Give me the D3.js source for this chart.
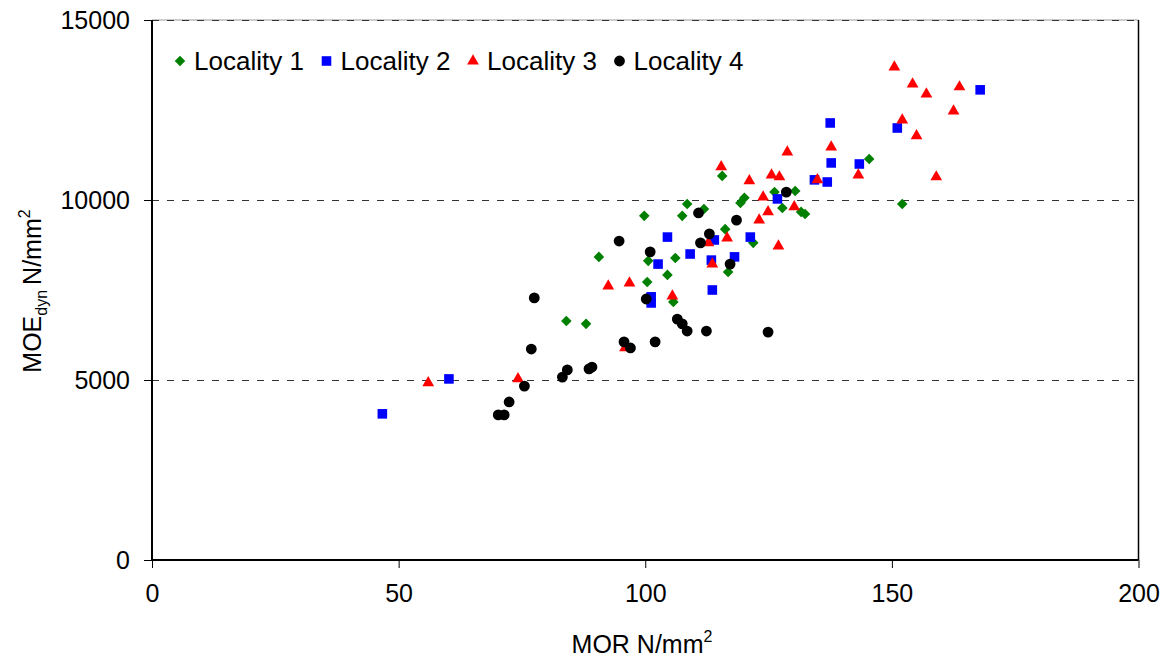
<!DOCTYPE html>
<html>
<head>
<meta charset="utf-8">
<script src="https://cdn.jsdelivr.net/npm/d3@7/dist/d3.min.js"></script>
<style>
  body { margin: 0; background: #fff; }
  text { font-family: "Liberation Sans", Arial, sans-serif; fill: #000; }
</style>
</head>
<body>
<svg id="chart" width="1168" height="662"></svg>
<script>
// values: [MOR, MOEdyn]
var locality1 = [
  [84.0, 6640], [88.0, 6560], [90.6, 8420], [99.8, 9560], [100.6, 8310],
  [100.4, 7720], [104.5, 7920], [106.1, 8390], [105.7, 7170], [107.5, 9560],
  [108.5, 9890], [111.9, 9750], [115.6, 10670], [116.2, 9190], [116.8, 8000],
  [119.3, 9920], [120.1, 10060], [121.9, 8810], [126.2, 10220], [127.8, 9780],
  [130.4, 10250], [131.6, 9670], [132.4, 9610], [145.4, 11140], [152.1, 9890]
];
var locality2 = [
  [46.7, 4060], [60.2, 5030], [101.2, 7310], [101.2, 7140], [102.6, 8220],
  [104.5, 8970], [109.1, 8500], [114.0, 8890], [113.4, 8330], [113.6, 7500],
  [118.1, 8420], [121.3, 8970], [126.8, 10030], [134.3, 10560], [136.9, 10500],
  [137.7, 11030], [137.5, 12140], [143.4, 11000], [151.1, 12000], [167.9, 13060]
];
var locality3 = [
  [56.0, 4920], [74.2, 5030], [92.5, 7610], [96.8, 7690], [95.9, 5890],
  [105.5, 7330], [112.8, 8810], [113.6, 8220], [116.6, 8940], [115.4, 10920],
  [121.1, 10530], [125.6, 10690], [127.2, 10640], [123.9, 10080], [124.9, 9670],
  [123.1, 9440], [130.2, 9810], [127.0, 8720], [128.8, 11330], [134.9, 10560],
  [137.7, 11470], [143.2, 10690], [150.5, 13690], [154.2, 13220], [157.0, 12940],
  [163.7, 13140], [162.5, 12470], [152.1, 12220], [155.0, 11780], [159.0, 10640]
];
var locality4 = [
  [70.2, 4030], [71.4, 4030], [72.4, 4390], [75.5, 4830], [76.9, 5860],
  [77.5, 7280], [83.2, 5080], [84.2, 5280], [88.6, 5310], [89.2, 5360],
  [94.7, 8860], [95.7, 6060], [97.0, 5890], [100.2, 7250], [101.0, 8560],
  [102.0, 6060], [106.5, 6690], [107.5, 6560], [108.5, 6360], [112.4, 6360],
  [110.8, 9640], [111.2, 8810], [113.0, 9060], [118.5, 9440], [117.2, 8220],
  [124.9, 6330], [128.6, 10220]
];
var seriesNames = ["Locality 1", "Locality 2", "Locality 3", "Locality 4"];
var xTicks = [0, 50, 100, 150, 200];
var yTicks = [0, 5000, 10000, 15000];

var seriesData = [locality1, locality2, locality3, locality4];
var colors = ["#008000", "#0000ff", "#ff0000", "#000000"];
var symbols = [
  d3.symbol().type(d3.symbolSquare).size(56),
  d3.symbol().type(d3.symbolSquare).size(92),
  d3.symbol().type(d3.symbolTriangle).size(60),
  d3.symbol().type(d3.symbolCircle).size(92)
];
var rotate = [45, 0, 0, 0];

var svg = d3.select("#chart");

var x = d3.scaleLinear().domain([0, 200]).range([152, 1138.5]);
var y = d3.scaleLinear().domain([0, 15000]).range([560, 20]);

// top border (light) and right border
svg.append("line")
  .attr("x1", x(0)).attr("x2", x(200))
  .attr("y1", y(15000)).attr("y2", y(15000))
  .attr("stroke", "#999").attr("stroke-width", 1);
svg.append("line")
  .attr("x1", x(200)).attr("x2", x(200))
  .attr("y1", y(15000)).attr("y2", y(0))
  .attr("stroke", "#000").attr("stroke-width", 1.5);

// dashed gridlines
svg.append("g")
  .selectAll("line")
  .data(yTicks.filter(function(d) { return d > 0; }))
  .enter()
  .append("line")
  .attr("x1", x(0)).attr("x2", x(200))
  .attr("y1", function(d) { return y(d) + 0.5; })
  .attr("y2", function(d) { return y(d) + 0.5; })
  .attr("stroke", "#333")
  .attr("stroke-width", 1)
  .attr("stroke-dasharray", "7,8");

// axes
var xAxis = svg.append("g")
  .attr("transform", "translate(0," + y(0) + ")")
  .call(d3.axisBottom(x).tickValues(xTicks).tickFormat(d3.format("d")).tickSize(8).tickPadding(16));
var yAxis = svg.append("g")
  .attr("transform", "translate(" + x(0) + ",0)")
  .call(d3.axisLeft(y).tickValues(yTicks).tickFormat(d3.format("d")).tickSize(8).tickPadding(14));

[xAxis, yAxis].forEach(function(g) {
  g.select(".domain").attr("stroke", "#000").attr("stroke-width", 2);
  g.selectAll(".tick line").attr("stroke", "#000").attr("stroke-width", 1);
  g.selectAll(".tick text")
    .style("font-family", "'Liberation Sans', Arial, sans-serif")
    .style("font-size", "25px")
    .attr("fill", "#000");
});
xAxis.select(".domain").attr("d", "M" + x(0) + ",0H" + x(200));
yAxis.select(".domain").attr("d", "M0," + y(0) + "V" + y(15000));
yAxis.selectAll(".tick text").attr("dy", "0.34em");

// points
seriesData.forEach(function(data, i) {
  svg.append("g")
    .selectAll("path")
    .data(data)
    .enter()
    .append("path")
    .attr("d", symbols[i])
    .attr("fill", colors[i])
    .attr("transform", function(d) {
      return "translate(" + x(d[0]) + "," + y(d[1]) + ") rotate(" + rotate[i] + ")";
    });
});

// legend
var legend = svg.append("g").attr("transform", "translate(180,61)");
var item = legend.selectAll("g")
  .data(seriesNames)
  .enter()
  .append("g")
  .attr("transform", function(d, i) { return "translate(" + i * 146.5 + ",0)"; });
item.append("path")
  .attr("d", function(d, i) { return symbols[i](); })
  .attr("fill", function(d, i) { return colors[i]; })
  .attr("transform", function(d, i) { return "rotate(" + rotate[i] + ")"; });
item.append("text")
  .attr("x", 14)
  .attr("y", 9)
  .style("font-size", "26px")
  .text(function(d) { return d; });

// axis titles
var xt = svg.append("text")
  .attr("x", 642)
  .attr("y", 653)
  .attr("text-anchor", "middle")
  .style("font-size", "25px");
xt.append("tspan").text("MOR N/mm");
xt.append("tspan").attr("dy", -11).style("font-size", "16px").text("2");

var yt = svg.append("text")
  .attr("transform", "translate(41,291) rotate(-90)")
  .attr("text-anchor", "middle")
  .style("font-size", "25px");
yt.append("tspan").text("MOE");
yt.append("tspan").attr("dy", 6).style("font-size", "16px").text("dyn");
yt.append("tspan").attr("dy", -6).text("\u2009N/mm");
yt.append("tspan").attr("dy", -11).style("font-size", "16px").text("2");
</script>
</body>
</html>
